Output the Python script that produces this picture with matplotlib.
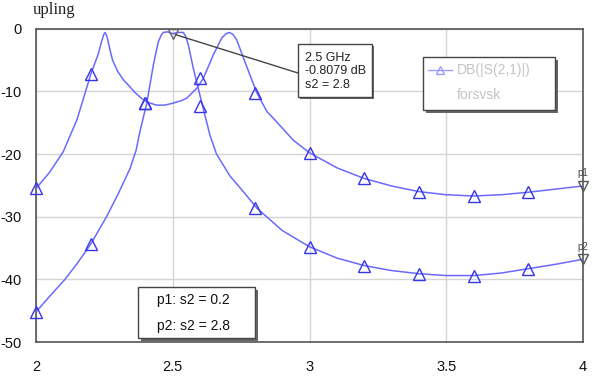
import numpy as np
import matplotlib
matplotlib.use("Agg")
import matplotlib.pyplot as plt
from matplotlib.patches import Rectangle
from matplotlib.lines import Line2D

plt.rcParams['font.family'] = ['Liberation Sans', 'DejaVu Sans']

# curve p1 (s2 = 0.2)
f_p1 = [2.0, 2.05, 2.1, 2.15, 2.18, 2.2, 2.228, 2.24, 2.248, 2.253, 2.26, 2.27, 2.28, 2.29, 2.3,
        2.32, 2.344, 2.36, 2.38, 2.405, 2.441, 2.47, 2.5, 2.53, 2.551, 2.588, 2.612, 2.648,
        2.679, 2.695, 2.707, 2.72, 2.734, 2.764, 2.807, 2.844, 2.868, 2.941, 3.0, 3.1, 3.2,
        3.3, 3.4, 3.5, 3.6, 3.7, 3.8, 3.9, 4.0]
db_p1 = [-25.5, -22.9, -19.6, -14.5, -10.2, -7.3, -4.0, -2.0, -0.9, -0.6, -1.3, -3.3, -5.0, -6.0, -6.9,
         -8.2, -9.3, -10.1, -10.9, -11.7, -12.2, -12.2, -11.9, -11.5, -11.1, -9.5, -7.9, -4.2,
         -1.5, -0.8, -0.6, -0.9, -1.8, -5.3, -10.2, -13.2, -14.3, -17.8, -19.8, -22.2, -23.9,
         -25.1, -26.0, -26.5, -26.7, -26.5, -26.1, -25.6, -25.1]

# curve p2 (s2 = 2.8)
f_p2 = [2.0, 2.05, 2.106, 2.15, 2.2, 2.258, 2.3, 2.344, 2.366, 2.38, 2.405, 2.429, 2.447,
        2.458, 2.466, 2.48, 2.5, 2.52, 2.539, 2.548, 2.557, 2.575, 2.609, 2.636, 2.66,
        2.709, 2.758, 2.807, 2.9, 3.0, 3.1, 3.2, 3.3, 3.4, 3.5, 3.6, 3.7, 3.8, 3.9, 4.0]
db_p2 = [-45.2, -42.7, -40.0, -37.5, -34.4, -30.0, -26.4, -22.3, -19.4, -16.4, -11.9, -5.8, -2.1,
         -1.0, -0.6, -0.5, -0.8, -0.6, -0.6, -1.3, -2.6, -6.3, -12.3, -17.0, -20.0,
         -23.5, -26.0, -28.6, -32.2, -34.8, -36.6, -37.8, -38.6, -39.1, -39.4, -39.4, -39.0, -38.3, -37.6, -36.8]

# marker points every 0.2 GHz
f_mk = [2.0, 2.2, 2.4, 2.6, 2.8, 3.0, 3.2, 3.4, 3.6, 3.8]
mk_p1 = [-25.5, -7.3, -11.9, -7.9, -10.2, -19.8, -23.9, -26.0, -26.7, -26.1]
mk_p2 = [-45.2, -34.4, -11.9, -12.3, -28.6, -34.8, -37.8, -39.1, -39.4, -38.3]
end_f = 4.0
end_p1 = -25.1
end_p2 = -36.8

marker_f = 2.5
marker_db = -0.8079
marker_s2 = 2.8

xticks = [2, 2.5, 3, 3.5, 4]
xtick_labels = ['2', '2.5', '3', '3.5', '4']
yticks = [0, -10, -20, -30, -40, -50]
ytick_labels = ['0', '-10', '-20', '-30', '-40', '-50']

W, H = 608, 388
fig = plt.figure(figsize=(W / 100, H / 100), dpi=100)
ax = fig.add_axes([36 / W, 1 - 342 / H, 547 / W, (342 - 28.7) / H])

line_c = '#6a6aff'
mk_c = '#3535e8'
ax.plot(f_p1, db_p1, color=line_c, lw=1.1, zorder=3)
ax.plot(f_p2, db_p2, color=line_c, lw=1.1, zorder=3)
ax.plot(f_mk, mk_p1, ls='none', marker='^', ms=8, mfc='none', mec=mk_c, mew=1.0, zorder=4, clip_on=False)
ax.plot(f_mk, mk_p2, ls='none', marker='^', ms=8, mfc='none', mec=mk_c, mew=1.0, zorder=4, clip_on=False)
ax.plot([end_f, end_f], [end_p1, end_p2], ls='none', marker='v', ms=7, mfc='none', mec='#555555',
        mew=1.0, zorder=5, clip_on=False)
ax.plot([marker_f], [marker_db], ls='none', marker='v', ms=7, mfc='none', mec='#666666', mew=1.0,
        zorder=5, clip_on=False)
ax.text(end_f, end_p1 + 1.2, 'p1', fontsize=7, color='#444444', ha='center', va='bottom', clip_on=False)
ax.text(end_f, end_p2 + 1.2, 'p2', fontsize=7, color='#444444', ha='center', va='bottom', clip_on=False)

ax.set_xlim(2, 4)
ax.set_ylim(-50, 0)
ax.set_xticks(xticks)
ax.set_xticklabels(xtick_labels)
ax.set_yticks(yticks)
ax.set_yticklabels(ytick_labels)
ax.tick_params(length=0, labelsize=10.5, colors='#111111')
ax.tick_params(axis='y', pad=10)
ax.tick_params(axis='x', pad=13)
ax.grid(True, color='#d4d4d4', lw=1.0)
ax.set_axisbelow(True)
for s in ax.spines.values():
    s.set_color('#555555')
    s.set_linewidth(1.2)


def px(x, y):
    return x / W, 1 - y / H


def box(x0, y0, x1, y1, shadow=3):
    a, b = px(x0 + shadow, y1 + shadow)
    w, h = (x1 - x0) / W, (y1 - y0) / H
    fig.add_artist(Rectangle((a, b), w, h, transform=fig.transFigure, fc='#666666', ec='none', zorder=6))
    a, b = px(x0, y1)
    fig.add_artist(Rectangle((a, b), w, h, transform=fig.transFigure, fc='white', ec='#444444',
                             lw=1.0, zorder=7))


# marker readout box and leader line
box(298, 44, 372, 97, shadow=2)
ax.annotate('', xy=(marker_f, marker_db), xytext=px(298, 73), textcoords='figure fraction',
            arrowprops=dict(arrowstyle='-', color='#444444', lw=1.0, shrinkA=0, shrinkB=2), zorder=6)
fig.text(*px(305, 52), '%.1f GHz\n%.4f dB\ns2 = %.1f' % (marker_f, marker_db, marker_s2),
         fontsize=9, ha='left', va='top', color='#222222', linespacing=1.15, zorder=8)

# legend box
box(423, 57, 555, 110, shadow=3)
fig.add_artist(Line2D([px(428, 0)[0], px(452, 0)[0]], [px(0, 70)[1]] * 2, transform=fig.transFigure,
                      color='#9c9cff', lw=1.0, zorder=8))
fig.add_artist(Line2D([px(440, 0)[0]], [px(0, 70)[1]], transform=fig.transFigure, ls='none',
                      marker='^', ms=6, mfc='none', mec='#9c9cff', mew=1.0, zorder=8))
fig.text(*px(457, 70), 'DB(|S(2,1)|)', fontsize=10, color='#c4c4c4', ha='left', va='center', zorder=8)
fig.text(*px(457, 95), 'forsvsk', fontsize=10, color='#c4c4c4', ha='left', va='center', zorder=8)

# parameter box
box(138, 287, 255, 338, shadow=3)
fig.text(*px(157, 300), 'p1: s2 = 0.2', fontsize=10, color='#111111', ha='left', va='center', zorder=8)
fig.text(*px(157, 326), 'p2: s2 = 2.8', fontsize=10, color='#111111', ha='left', va='center', zorder=8)

# caption fragment at the very top
fig.text(*px(33, 14), 'upling', fontsize=12, family='Liberation Serif', color='#222222',
         ha='left', va='baseline')

fig.savefig('out.png', dpi=100)
